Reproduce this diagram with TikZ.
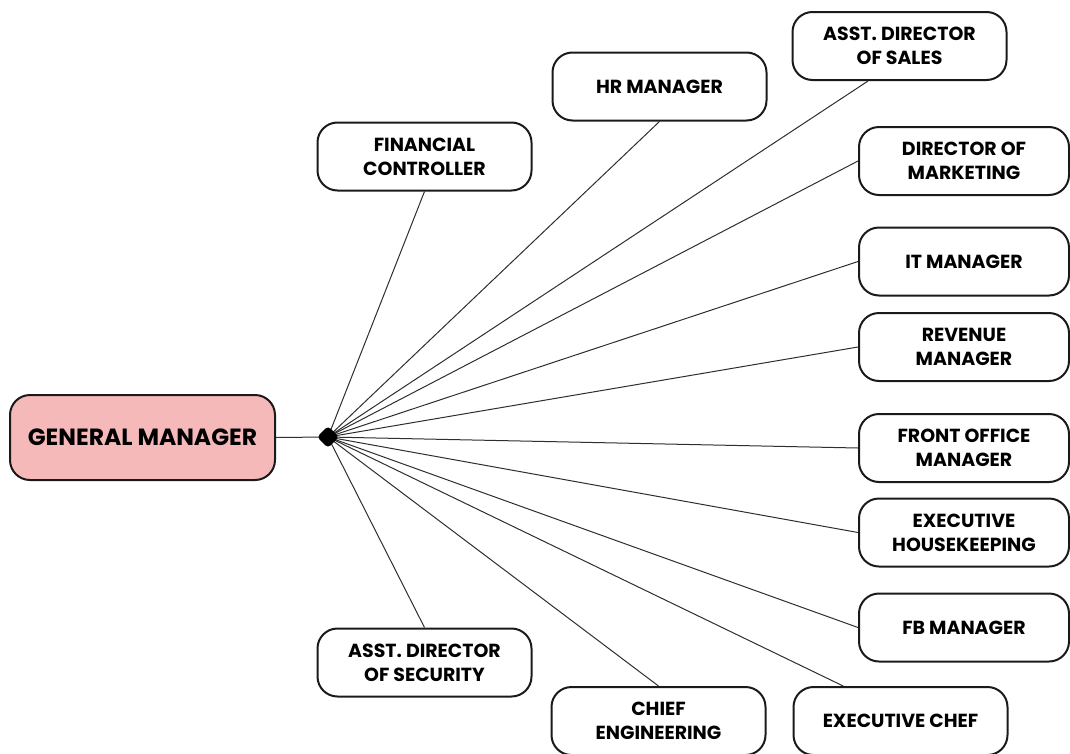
\documentclass[tikz,border=0pt]{standalone}
\usepackage{fontspec}
\setmainfont{Poppins}
\usetikzlibrary{shapes.geometric}

\definecolor{gmpink}{HTML}{F6B9B9}
\definecolor{boxline}{HTML}{1A1A1A}
\definecolor{linkgray}{HTML}{2E2E2E}

\begin{document}
\begin{tikzpicture}[x=0.75pt, y=-0.75pt,
    role/.style={draw=boxline, line width=1.5pt, rounded corners=15pt, fill=white,
        minimum width=160.5pt, minimum height=51pt, inner sep=0pt, align=center,
        font=\fontsize{14.2}{18}\selectfont\bfseries},
    sideRole/.style={role, minimum width=157.5pt},
    link/.style={draw=linkgray, line width=0.75pt}]

    \useasboundingbox (0,0) rectangle (1070,753);

    % Define the coordinate for the hub
    \coordinate (H) at (328,437);

    % Draw the general manager box
    \node[role, fill=gmpink, minimum width=198.75pt, minimum height=63.75pt,
        font=\fontsize{17.6}{20}\selectfont\bfseries] (GM) at (142.5,437.5) {GENERAL MANAGER};

    % Upper boxes
    \node[role] (FC) at (424.5,156.5) {FINANCIAL\\CONTROLLER};
    \node[role] (HR) at (659.5,86.5) {HR MANAGER};
    \node[role] (SALES) at (899.5,46) {ASST. DIRECTOR\\OF SALES};

    % Right column of boxes
    \node[sideRole] (MKT) at (964,161) {DIRECTOR OF\\MARKETING};
    \node[sideRole] (IT) at (964,261.5) {IT MANAGER};
    \node[sideRole] (REV) at (964,347) {REVENUE\\MANAGER};
    \node[sideRole] (FO) at (964,448) {FRONT OFFICE\\MANAGER};
    \node[sideRole] (HK) at (964,532.5) {EXECUTIVE\\HOUSEKEEPING};
    \node[sideRole] (FB) at (964,627.5) {FB MANAGER};

    % Lower boxes
    \node[role] (SEC) at (424.5,662.5) {ASST. DIRECTOR\\OF SECURITY};
    \node[role] (ENG) at (658.5,721) {CHIEF\\ENGINEERING};
    \node[role] (CHEF) at (900.5,721) {EXECUTIVE CHEF};

    % Draw the links from the hub
    \draw[link] (GM.east) -- (H);
    \draw[link] (H) -- (FC.south);
    \draw[link] (H) -- (HR.south);
    \draw[link] (H) -- ([xshift=-23.6pt]SALES.south);
    \foreach \n in {MKT, IT, REV, FO, HK, FB}
        \draw[link] (H) -- (\n.west);
    \draw[link] (H) -- (SEC.north);
    \draw[link] (H) -- (ENG.north);
    \draw[link] (H) -- ([xshift=-43pt]CHEF.north);

    % Hub marker
    \node[diamond, fill=black, draw=black, rounded corners=2.5pt, minimum size=16pt, inner sep=0pt] (HUB) at (H) {};

\end{tikzpicture}
\end{document}
